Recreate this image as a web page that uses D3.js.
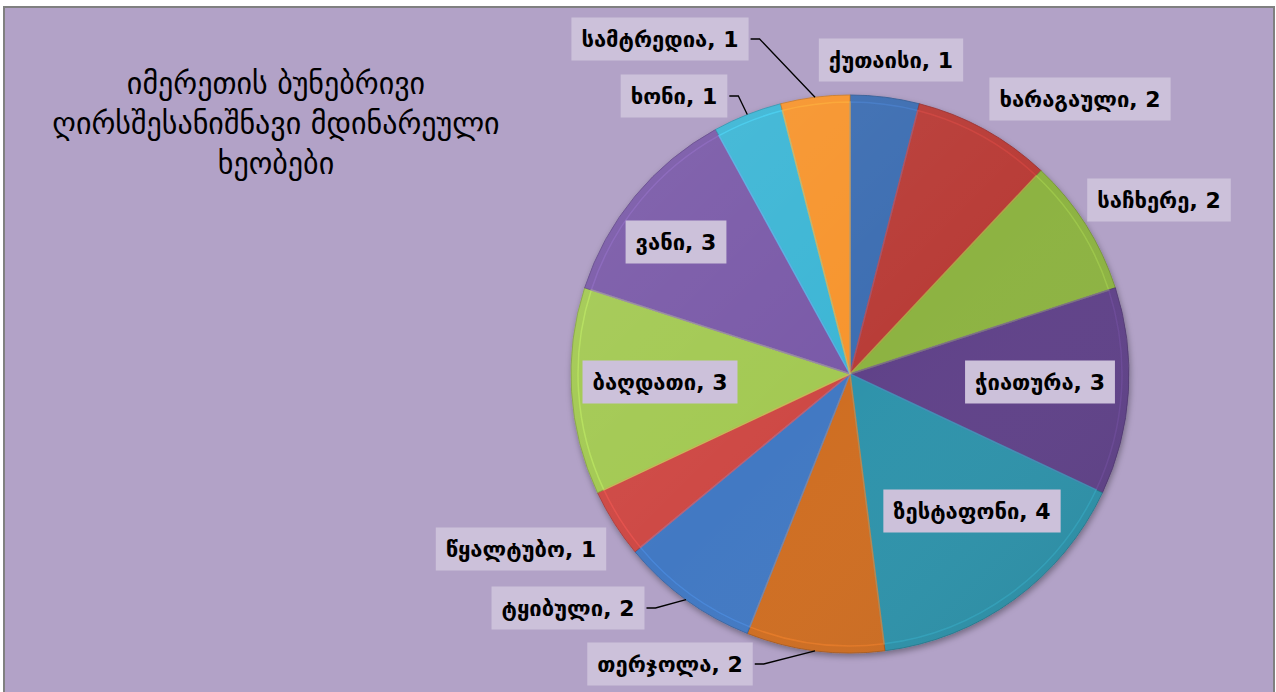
<!DOCTYPE html>
<html><head><meta charset="utf-8">
<script src="https://cdn.jsdelivr.net/npm/d3@7"></script>
<style>html,body{margin:0;padding:0;background:#fff;overflow:hidden}</style>
</head><body>
<svg id="chart" width="1276" height="692"></svg>
<script>
// ---- data ----
const categories = ["ქუთაისი","ხარაგაული","საჩხერე","ჭიათურა","ზესტაფონი","თერჯოლა","ტყიბული","წყალტუბო","ბაღდათი","ვანი","ხონი","სამტრედია"];
const values = [1,2,2,3,4,2,2,1,3,3,1,1];
const titleLines = ["იმერეთის ბუნებრივი","ღირსშესანიშნავი მდინარეული","ხეობები"];

// ---- styles / layout ----
const sliceColors = ["#3C6EB2","#B93C39","#8DB343","#614389","#2E93AB","#CF6E22","#4279C3","#CE4945","#A3C952","#7A5AA8","#3DB6D5","#F7952F"];
const labelOffsets = [[41,-314],[230,-275],[309,-174],[190,8],[122,137],[-180,290],[-282,234],[-329,175],[-190,8],[-174,-132],[-176,-278],[-190,-335]];
const hasLeader = [false,false,false,false,false,true,true,false,false,false,true,true];

const W = 1276, H = 692;
const cx = 850, cy = 374, R = 279;
const svg = d3.select("#chart");
const defs = svg.append("defs");

// frame
svg.append("rect").attr("x",4).attr("y",7).attr("width",1270).attr("height",700)
  .attr("fill","#B2A2C7").attr("stroke","#808080").attr("stroke-width",2);

// title
const title = svg.append("text").attr("x",276).attr("y",94)
  .attr("text-anchor","middle").attr("font-family","DejaVu Sans, sans-serif")
  .attr("font-size",30).attr("fill","#000");
titleLines.forEach((t,i)=>title.append("tspan").attr("x",276).attr("dy",i?40:0).text(t));

// shadow filter
const f = defs.append("filter").attr("id","sh").attr("x","-20%").attr("y","-20%").attr("width","140%").attr("height","140%");
f.append("feDropShadow").attr("dx",1).attr("dy",3).attr("stdDeviation",3).attr("flood-color","#000").attr("flood-opacity",0.35);

const pie = d3.pie().sort(null).value(d=>d)(values);
const arc = d3.arc().innerRadius(0).outerRadius(R);
const arcInner = d3.arc().innerRadius(0).outerRadius(R-7);

const g = svg.append("g").attr("transform",`translate(${cx},${cy})`);
const pg = g.append("g").attr("filter","url(#sh)");
pg.selectAll("path.slice").data(pie).join("path").attr("class","slice")
  .attr("d",arc).attr("fill",(d,i)=>sliceColors[i])
  .attr("stroke",(d,i)=>d3.color(sliceColors[i]).darker(0.6)).attr("stroke-width",0.8);
g.selectAll("path.bev").data(pie).join("path").attr("class","bev")
  .attr("d",arcInner).attr("fill","none")
  .attr("stroke",(d,i)=>d3.color(sliceColors[i]).brighter(0.5)).attr("stroke-opacity",0.55).attr("stroke-width",1.5);

// global lighting gradient
const lg = defs.append("linearGradient").attr("id","light").attr("x1","0").attr("y1","0").attr("x2","1").attr("y2","1");
lg.append("stop").attr("offset","0").attr("stop-color","#fff").attr("stop-opacity",0.08);
lg.append("stop").attr("offset","0.5").attr("stop-color","#fff").attr("stop-opacity",0);
lg.append("stop").attr("offset","1").attr("stop-color","#000").attr("stop-opacity",0.08);
g.append("circle").attr("r",R).attr("fill","url(#light)").attr("pointer-events","none");

// labels
const lblG = svg.append("g");
pie.forEach((d,i)=>{
  const [dx,dy] = labelOffsets[i];
  const lx = cx+dx, ly = cy+dy;
  const grp = lblG.append("g");
  const rect = grp.append("rect").attr("fill","#CCC1DA");
  const txt = grp.append("text").attr("x",lx).attr("y",ly).attr("dy","0.36em")
    .attr("text-anchor","middle").attr("font-family","DejaVu Sans, sans-serif")
    .attr("font-weight","bold").attr("font-size",22).attr("fill","#000")
    .text(`${categories[i]}, ${values[i]}`);
  const w = txt.node().getComputedTextLength() + 20, h = 43;
  rect.attr("x",lx-w/2).attr("y",ly-h/2).attr("width",w).attr("height",h);
  if (hasLeader[i]) {
    const mid = (d.startAngle+d.endAngle)/2;
    const px = cx + R*Math.sin(mid), py = cy - R*Math.cos(mid);
    const x0 = lx + w/2 + 2;
    lblG.append("path").attr("d",`M${x0},${ly}L${x0+9},${ly}L${px},${py}`)
      .attr("fill","none").attr("stroke","#000").attr("stroke-width",1.3);
  }
});
</script>
</body></html>
